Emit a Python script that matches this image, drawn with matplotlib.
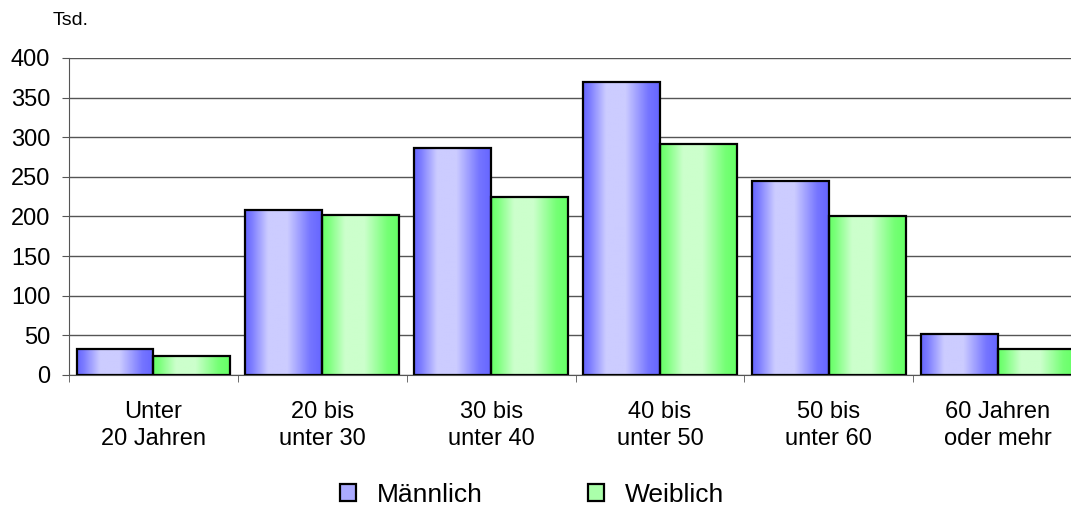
import numpy as np
import matplotlib
matplotlib.use("Agg")
import matplotlib.pyplot as plt
from matplotlib.patches import Patch
from matplotlib.colors import LinearSegmentedColormap

plt.rcParams["font.family"] = ["Liberation Sans", "DejaVu Sans"]

categories = ["Unter\n20 Jahren", "20 bis\nunter 30", "30 bis\nunter 40",
              "40 bis\nunter 50", "50 bis\nunter 60", "60 Jahren\noder mehr"]
maennlich = [33, 208, 286, 370, 245, 52]
weiblich = [24, 202, 225, 292, 200, 33]
series_names = ["Männlich", "Weiblich"]

blue_cmap = LinearSegmentedColormap.from_list("b", ["#6666ff", "#ccccff"])
green_cmap = LinearSegmentedColormap.from_list("g", ["#66ff66", "#ccffcc"])

# horizontal shading profile across one bar (0 = dark edge, 1 = light centre)
prof_x = np.linspace(0, 1, 200)
profile = np.interp(prof_x, [0, 0.08, 0.3, 0.55, 0.85, 1.0],
                    [0.0, 0.2, 1.0, 1.0, 0.15, 0.0])

fig = plt.figure(figsize=(10.71, 5.09), dpi=100)
ax = fig.add_axes([0.0644, 0.2633, 0.9459, 0.6228])

x = np.arange(len(categories))
w = 0.455


def grad_bars(xpos, vals, cmap):
    bars = ax.bar(xpos, vals, w, facecolor="none", edgecolor="black",
                  linewidth=1.6, zorder=4)
    for b in bars:
        x0, y0 = b.get_x(), b.get_y()
        im = ax.imshow(profile[np.newaxis, :], cmap=cmap, aspect="auto",
                       extent=[x0, x0 + b.get_width(), y0, y0 + b.get_height()],
                       vmin=0, vmax=1, zorder=3, interpolation="bilinear")
        im.set_clip_path(b)
    return bars


grad_bars(x - w / 2, maennlich, blue_cmap)
grad_bars(x + w / 2, weiblich, green_cmap)

ax.set_xlim(-0.5, len(categories) - 0.5)
ax.set_ylim(0, 400)
ax.set_yticks(range(0, 401, 50))
ax.yaxis.grid(True, color="#555555", linewidth=1.0)
ax.set_axisbelow(True)

ax.set_xticks(x)
ax.set_xticklabels(categories, fontsize=17, linespacing=1.3)
ax.set_xticks(np.arange(-0.5, len(categories), 1), minor=True)
ax.tick_params(axis="x", which="major", length=0, pad=19)
ax.tick_params(axis="x", which="minor", length=5, color="#555555")
ax.tick_params(axis="y", labelsize=17, length=5, color="#555555", pad=8.5)

for s in ["top", "right"]:
    ax.spines[s].set_visible(False)
ax.spines["left"].set_color("#555555")
ax.spines["bottom"].set_color("#555555")

fig.text(0.0495, 0.96, "Tsd.", fontsize=14, ha="left", va="center")

handles = [Patch(facecolor="#aaaaff", edgecolor="black", linewidth=1.6),
           Patch(facecolor="#aaffaa", edgecolor="black", linewidth=1.6)]
fig.legend(handles, series_names, loc="center", bbox_to_anchor=(0.4967, 0.0275),
           ncol=2, frameon=False, fontsize=19, handlelength=0.6,
           handleheight=0.6, handletextpad=0.8, columnspacing=4.0)

fig.savefig("out.png", dpi=100)
